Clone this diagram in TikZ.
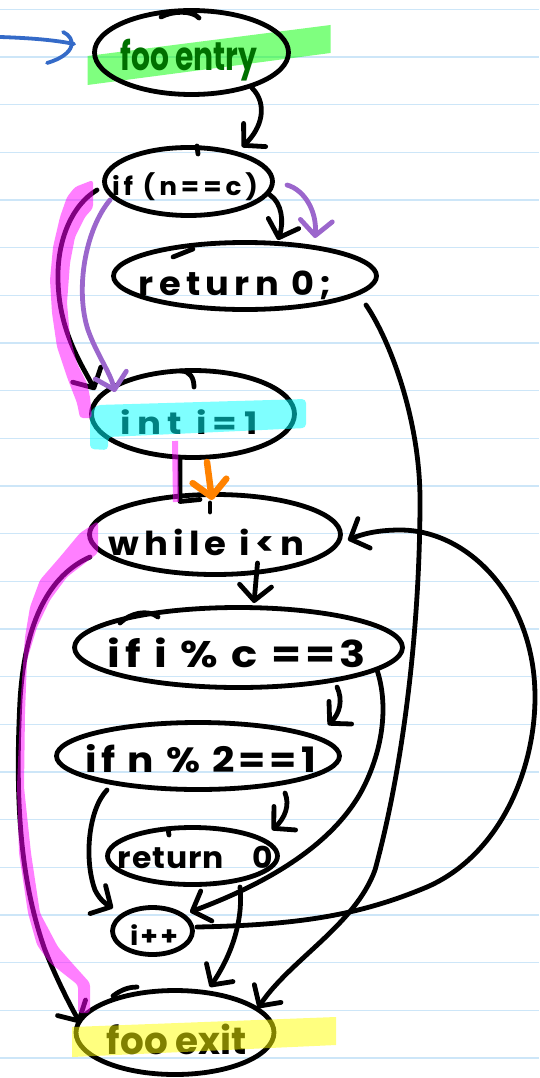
\documentclass[tikz,border=0pt]{standalone}
\usepackage{fontspec}
\newfontfamily\handfont{Poppins}
\usetikzlibrary{shapes.geometric,arrows.meta,calc}

\definecolor{rulecol}{RGB}{205,230,248}
\definecolor{lav}{RGB}{155,102,204}
\definecolor{orng}{RGB}{255,130,0}
\definecolor{bluepen}{RGB}{52,106,200}
\definecolor{inkgreen}{RGB}{0,112,0}
\definecolor{hlgreen}{RGB}{0,255,0}
\definecolor{hlcyan}{RGB}{0,255,255}
\definecolor{hlyellow}{RGB}{255,255,0}
\definecolor{hlpink}{RGB}{255,0,255}

% hand lettering: width, font size, tracking, text
\newcommand\handtext[4]{\resizebox{#1pt}{\height}{\fontsize{#2pt}{#2pt}\selectfont\addfontfeature{LetterSpace=#3}#4}}

\tikzset{
  ink/.style={line width=4.8pt, line cap=round, line join=round},
  blob/.style={ellipse, draw, ink, inner sep=0pt},
  lbl/.style={inner sep=0pt, font=\handfont\bfseries},
  conn/.style={ink, -{Straight Barb[length=15pt,width=32pt,round]}},
  marker/.style={opacity=.5},
}

\begin{document}
\begin{tikzpicture}[x=1pt,y=-1pt]
\useasboundingbox (0,0) rectangle (539,1078);
\fill[white] (0,0) rectangle (539,1078);

% ruled paper
\foreach \k in {0,...,22}
  \draw[rulecol, line width=1.4pt] (0,9.3+\k*47.67) -- (539,9.3+\k*47.67);

% green marker under the entry block
\fill[hlgreen, marker] (87.5,56) -- (330.5,25) -- (330.5,53) -- (87.5,85) -- cycle;

% blocks
\node[blob, minimum width=194pt, minimum height=84pt,
  label={[lbl, text=inkgreen, xshift=-2.5pt, yshift=-7.5pt]center:{\handtext{137}{40}{0}{foo entry}}}]
  (entry) at (191.5,52.5) {};
\node[blob, minimum width=168pt, minimum height=68pt,
  label={[lbl, xshift=-3.5pt, yshift=-5pt]center:{\handtext{146}{25}{15}{if (n==c)}}}]
  (ifnc) at (188.5,181.5) {};
\node[blob, minimum width=263pt, minimum height=67pt,
  label={[lbl, xshift=-9.5pt, yshift=-9pt]center:{\handtext{193}{33}{15}{return 0;}}}]
  (ret1) at (245,276) {};
\node[blob, minimum width=203pt, minimum height=87pt,
  label={[lbl, xshift=-4pt, yshift=-7.6pt]center:{\handtext{137}{31}{18}{int i=1}}}]
  (init) at (193,414) {};
\node[blob, minimum width=251pt, minimum height=80pt,
  label={[lbl, xshift=-9pt, yshift=-7.5pt]center:{\handtext{196}{33}{15}{while i<n}}}]
  (loop) at (215,534.5) {};
\node[blob, minimum width=328pt, minimum height=80pt,
  label={[lbl, xshift=-1.5pt, yshift=-5pt]center:{\handtext{258}{37}{10}{if i \% c ==3}}}]
  (ifmod) at (238.5,647.5) {};
\node[blob, minimum width=283pt, minimum height=67pt,
  label={[lbl, xshift=2.75pt, yshift=-2.3pt]center:{\handtext{230}{35}{10}{if n \% 2==1}}}]
  (ifodd) at (198,756) {};
\node[blob, minimum width=170pt, minimum height=57pt,
  label={[lbl, xshift=3pt, yshift=-1.2pt]center:{\handtext{155}{30}{3}{return\hspace{0.9em}0}}}]
  (ret2) at (192.5,856) {};
\node[blob, minimum width=80pt, minimum height=47pt,
  label={[lbl, xshift=1.5pt, yshift=-3.6pt]center:{\handtext{48}{26}{8}{i++}}}]
  (inc) at (152.5,931) {};
\node[blob, minimum width=198pt, minimum height=84pt,
  label={[lbl, xshift=2pt, yshift=-6.9pt]center:{\handtext{140}{38}{0}{foo exit}}}]
  (exit) at (175,1032.5) {};

% pen start strokes on the outlines
\draw[ink] (161,17) .. controls (172,11) and (192,10) .. (199,18);
\draw[ink] (197,146) -- (198,154);
\draw[ink] (173,257) -- (193,249);
\draw[ink] (181,371) .. controls (190,371) and (194,378) .. (194,387);
\draw[ink] (210,503) -- (210,512);
\draw[ink] (120,623) .. controls (130,613) and (148,609) .. (158,617);
\draw[ink] (168,829) -- (169,835);
\draw[ink] (113,996) .. controls (122,989) and (130,987) .. (137,987);

% entry arrow
\coordinate (src) at (0,37);
\coordinate (hook) at ($(entry.west)+(-18,-8.5)$);
\draw[ink, bluepen, line width=3.8pt] (src) .. controls (30,38) and (55,40) .. (hook);
\draw[ink, bluepen, line width=3.8pt] ($(hook)+(-11,-12)$) .. controls ($(hook)+(2,-6)$) and ($(hook)+(3,10)$) .. ($(hook)+(-27,19)$);

% control flow edges
\draw[conn] ($(entry)+(60.5,35.5)$) .. controls (268,104) and (262,128) .. ($(ifnc)+(53.5,-34.5)$);
\draw[conn] ($(ifnc)+(81.5,13.5)$) .. controls (282,203) and (284,222) .. ($(ret1)+(33,-36)$);
\draw[conn, lav] ($(ifnc)+(98.5,3.5)$) .. controls (305,190) and (317,212) .. ($(ret1)+(70,-38)$);
\draw[conn] ($(ret1)+(121,29)$) .. controls (390,340) and (420,420) .. (420,500)
  .. controls (420,620) and (405,760) .. (375,870)
  .. controls (355,925) and (290,960) .. ($(exit)+(83,-24.5)$);
\draw[conn] ($(ifnc)+(-91.5,8.5)$) .. controls (72,205) and (57,240) .. (58,280)
  .. controls (59,330) and (80,362) .. ($(init)+(-98,-24)$);
\draw[conn, lav] ($(ifnc)+(-78.5,18.5)$) .. controls (85,230) and (75,290) .. (88,330)
  .. controls (97,355) and (110,372) .. ($(init)+(-78,-22)$);
\draw[ink] ($(init)+(-13,44)$) -- ($(loop)+(-35,-33)$) -- ($(loop)+(-15,-35)$);
\draw[ink, orng, line width=6.5pt, -{Straight Barb[length=16pt,width=34pt,round]}]
  ($(init)+(14,48)$) -- ($(loop)+(-3,-34.5)$);
\draw[conn] ($(loop)+(42.5,28.5)$) -- ($(ifmod)+(15.5,-44.5)$);
\draw[conn] ($(ifmod)+(98.5,39.5)$) .. controls (343,700) and (340,713) .. ($(ifodd)+(130,-31)$);
\draw[conn] ($(ifmod)+(138.5,22.5)$) .. controls (387,700) and (385,740) .. (367,780)
  .. controls (345,830) and (290,875) .. ($(inc)+(37.5,-19)$);
\draw[conn] ($(inc)+(44.5,-4)$) .. controls (300,925) and (360,915) .. (427,887)
  .. controls (500,855) and (535,770) .. (535,697)
  .. controls (535,600) and (470,530) .. (400,530)
  .. controls (375,530) and (360,535) .. ($(loop)+(133,5.5)$);
\draw[conn] ($(ifodd)+(-91,34)$) .. controls (88,810) and (84,860) .. (95,890)
  .. controls (99,898) and (104,903) .. ($(inc)+(-39.5,-23)$);
\draw[conn] ($(ifodd)+(87,37)$) .. controls (290,805) and (285,818) .. ($(ret2)+(79.5,-26)$);
\draw[conn] ($(loop)+(-125,22.5)$) .. controls (50,575) and (25,620) .. (20,700)
  .. controls (15,800) and (20,880) .. (45,950)
  .. controls (57,980) and (70,1005) .. ($(exit)+(-95,-9.5)$);
\draw[conn] ($(ret2)+(47.5,31)$) .. controls (243,915) and (235,950) .. ($(exit)+(35,-45.5)$);

% markers
\fill[hlcyan, marker, rounded corners=4pt] (90,412) -- (97,405) -- (306,399) -- (306,428)
  -- (108,437) -- (108,450) -- (90,449) -- cycle;
\fill[hlyellow, marker] (72,1027) -- (336,1017) -- (336,1045) -- (72,1057) -- cycle;
\fill[hlpink, marker, rounded corners=3pt] (93,180) -- (75,187) -- (67,197) -- (60,217)
  -- (53,247) -- (50,280) -- (52,313) -- (57,347) -- (67,377) -- (77,403) -- (80,418)
  -- (92,418) -- (90,397) -- (87,383) -- (77,363) -- (70,337) -- (67,303) -- (70,263)
  -- (75,237) -- (85,217) -- (93,208) -- cycle;
\draw[hlpink, marker, line width=6pt] (175,441) -- (176,502);
\fill[hlpink, marker, rounded corners=3pt] (98,521) -- (80,533) -- (60,557) -- (40,580)
  -- (30,607) -- (25,637) -- (22,680) -- (20,713) -- (17,787) -- (19,853) -- (28,913)
  -- (37,945) -- (50,963) -- (78,985) -- (78,1013) -- (90,1013) -- (90,983) -- (72,963)
  -- (58,947) -- (40,913) -- (31,853) -- (24,787) -- (25,713) -- (27,660) -- (37,627)
  -- (50,600) -- (67,577) -- (98,553) -- cycle;
\end{tikzpicture}
\end{document}
